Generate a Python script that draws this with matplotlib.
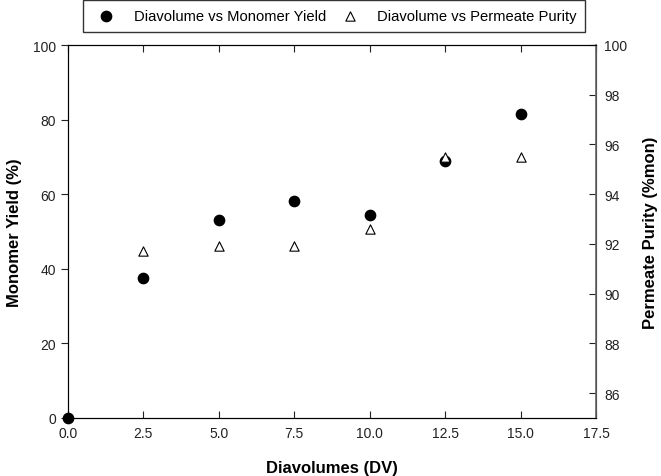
import matplotlib
matplotlib.use("Agg")
from matplotlib import pyplot as plt

plt.rcParams['font.family'] = ['Liberation Sans', 'DejaVu Sans']

# data
diavolumes = [0.0, 2.5, 5.0, 7.5, 10.0, 12.5, 15.0]
monomer_yield = [0.0, 37.5, 53.0, 58.3, 54.3, 68.8, 81.5]
purity_dv = [2.5, 5.0, 7.5, 10.0, 12.5, 15.0]
permeate_purity = [91.7, 91.9, 91.9, 92.6, 95.5, 95.5]

x_ticks = [0.0, 2.5, 5.0, 7.5, 10.0, 12.5, 15.0, 17.5]
left_ticks = [0, 20, 40, 60, 80, 100]
right_ticks = [86, 88, 90, 92, 94, 96, 98, 100]

fig = plt.figure(figsize=(6.61, 4.77), dpi=100)
ax = fig.add_axes([68 / 661, 58 / 477, 528 / 661, 373 / 477])
ax2 = ax.twinx()

h1 = ax.scatter(diavolumes, monomer_yield, s=55, color='black', marker='o',
                clip_on=False, zorder=3, label='Diavolume vs Monomer Yield')
h2 = ax2.scatter(purity_dv, permeate_purity, s=45, facecolor='white', edgecolor='black',
                 linewidths=0.8, marker='^', clip_on=False, zorder=3,
                 label='Diavolume vs Permeate Purity')

ax.set_xlim(0, 17.5)
ax.set_ylim(0, 100)
ax2.set_ylim(85, 100)
ax.set_xticks(x_ticks)
ax.set_xticklabels([f"{t:.1f}" for t in x_ticks])
ax.set_yticks(left_ticks)
ax2.set_yticks(right_ticks)

ax.tick_params(axis='x', direction='in', top=True, length=5, labelsize=10, colors='#222222', pad=6)
ax.tick_params(axis='y', direction='out', length=5, labelsize=10, colors='#222222')
ax2.tick_params(axis='y', direction='in', length=5, labelsize=10, colors='#222222', pad=6)

for sp in ['left', 'bottom', 'top']:
    ax.spines[sp].set_color('black')
ax2.spines['right'].set_color('#666666')
ax2.spines['right'].set_linewidth(1.2)

ax.set_xlabel('Diavolumes (DV)', fontsize=12, fontweight='bold', labelpad=14)
ax.set_ylabel('Monomer Yield (%)', fontsize=12, fontweight='bold', labelpad=8)
ax2.set_ylabel('Permeate Purity (%mon)', fontsize=12, fontweight='bold', labelpad=11)

leg = fig.legend(handles=[h1, h2], loc='upper center', bbox_to_anchor=(334 / 661, 1 - 1 / 477),
                 ncol=2, fontsize=10.6, frameon=True, fancybox=False, edgecolor='black',
                 borderpad=0.6, borderaxespad=0, columnspacing=0.6, handletextpad=0.85,
                 markerscale=1.0)
leg.get_frame().set_linewidth(1.0)

fig.savefig('out.png', dpi=100)
